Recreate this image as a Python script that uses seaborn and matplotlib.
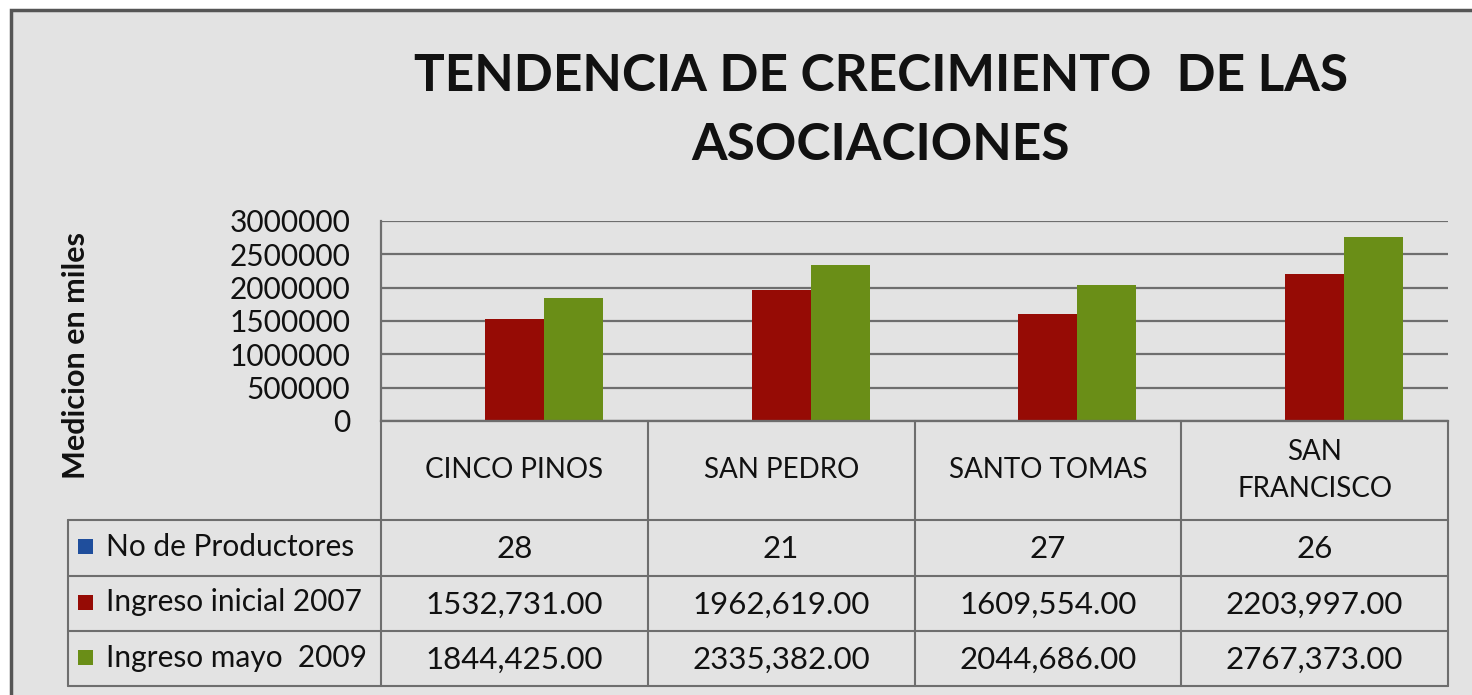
import matplotlib
matplotlib.use("Agg")
import matplotlib.pyplot as plt
from matplotlib.lines import Line2D
from matplotlib.patches import Rectangle
import numpy as np
import pandas as pd
import seaborn as sns

# data
categories = ["CINCO PINOS", "SAN PEDRO", "SANTO TOMAS", "SAN\nFRANCISCO"]
series = ["No de Productores", "Ingreso inicial 2007", "Ingreso mayo  2009"]
productores = [28, 21, 27, 26]
ingreso_2007 = [1532731, 1962619, 1609554, 2203997]
ingreso_2009 = [1844425, 2335382, 2044686, 2767373]
colors = ["#1F4E9C", "#960B05", "#6A8E17"]
yticks = [0, 500000, 1000000, 1500000, 2000000, 2500000, 3000000]

title = "TENDENCIA DE CRECIMIENTO  DE LAS\nASOCIACIONES"
ylabel = "Medicion en miles"

sns.set_style("white")
plt.rcParams["font.family"] = ["Lato", "DejaVu Sans"]

W, H = 1472, 695
BG = "#E3E3E3"
LINE = "#6E6E6E"

df = pd.DataFrame({
    "asociacion": categories * 3,
    "serie": np.repeat(series, len(categories)),
    "valor": productores + ingreso_2007 + ingreso_2009,
})


def fmt_value(v):
    # the sheet shows values like 1532,731.00
    if v < 1000:
        return str(v)
    return f"{v // 1000},{v % 1000:03d}.00"


fig = plt.figure(figsize=(W / 100, H / 100), dpi=100)
fig.patch.set_facecolor("white")
fig.add_artist(Rectangle((11 / W, -0.05), 1.1, (H - 10) / H + 0.05,
                         transform=fig.transFigure, facecolor=BG,
                         edgecolor="#555555", linewidth=2.5, zorder=0))

# plot area
ax = fig.add_axes([381 / W, (H - 421) / H, (1448 - 381) / W, 200 / H])
ax.patch.set_visible(False)
sns.barplot(data=df, x="asociacion", y="valor", hue="serie",
            palette=colors, saturation=1, width=0.663, linewidth=0,
            legend=False, ax=ax)
ax.set_xlim(-0.5, len(categories) - 0.5)
ax.set_ylim(0, 3000000)
ax.set_yticks(yticks)
ax.set_yticklabels([str(t) for t in yticks], fontsize=21.5, color="#111111")
ax.set_xticks([])
ax.set_xlabel("")
ax.set_ylabel("")
ax.yaxis.grid(True, color=LINE, linewidth=1.6)
ax.set_axisbelow(True)
ax.tick_params(axis="y", length=0, pad=22)
for side in ["top", "right"]:
    ax.spines[side].set_visible(False)
for side in ["left", "bottom"]:
    ax.spines[side].set_color(LINE)
    ax.spines[side].set_linewidth(1.6)

# data table below the plot, in pixel coordinates
tab = fig.add_axes([0, 0, 1, 1])
tab.set_xlim(0, W)
tab.set_ylim(H, 0)
tab.axis("off")

col_x = [ax.transData.transform((i - 0.5, 0))[0] for i in range(len(categories) + 1)]
rows_y = [421, 520, 576, 631, 686]
legend_left = 68


def hline(x0, x1, y):
    tab.add_line(Line2D([x0, x1], [y, y], color=LINE, linewidth=1.5))


def vline(x, y0, y1):
    tab.add_line(Line2D([x, x], [y0, y1], color=LINE, linewidth=1.5))


hline(col_x[0], col_x[-1], rows_y[0])
for y in rows_y[1:]:
    hline(legend_left, col_x[-1], y)
for x in col_x:
    vline(x, rows_y[0], rows_y[-1])
vline(legend_left, rows_y[1], rows_y[-1])

for i, name in enumerate(categories):
    cx = (col_x[i] + col_x[i + 1]) / 2
    tab.text(cx, (rows_y[0] + rows_y[1]) / 2, name, ha="center", va="center",
             fontsize=20, color="#111111", linespacing=1.55)

table_rows = [productores, ingreso_2007, ingreso_2009]
for r, (label, vals, c) in enumerate(zip(series, table_rows, colors)):
    y0, y1 = rows_y[r + 1], rows_y[r + 2]
    cy = (y0 + y1) / 2
    tab.add_patch(Rectangle((78, cy - 9), 15, 15, facecolor=c, edgecolor="none"))
    tab.text(106, cy - 1, label, ha="left", va="center", fontsize=21.5, color="#111111")
    for i, v in enumerate(vals):
        cx = (col_x[i] + col_x[i + 1]) / 2
        tab.text(cx, cy + 1, fmt_value(v), ha="center", va="center",
                 fontsize=22.5, color="#111111")

fig.text(76 / W, 1 - 355 / H, ylabel, rotation=90, ha="center", va="center",
         fontsize=22, fontweight="bold", color="#111111")
fig.text(881 / W, 1 - 111 / H, title, ha="center", va="center",
         fontsize=37, fontweight="bold", color="#111111", linespacing=1.6)

fig.savefig("out.png", dpi=100, facecolor=fig.get_facecolor())
plt.close(fig)
